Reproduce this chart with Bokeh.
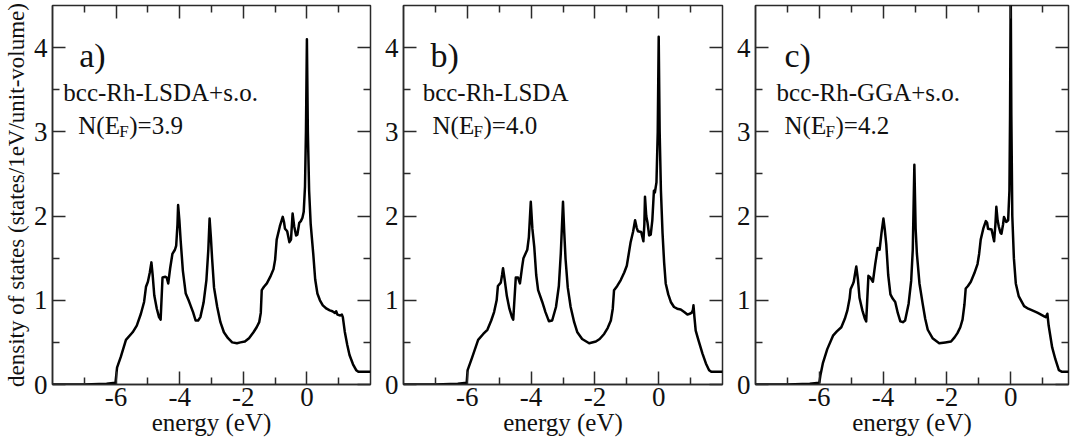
from bokeh.plotting import figure
from bokeh.models import Range1d, LinearAxis, FixedTicker, Label, CustomJSTickFormatter
from bokeh.layouts import row
from bokeh.embed import file_html
from bokeh.resources import INLINE

# ---------------- data ----------------
energy_a = [-8, -7, -6.3, -6.02, -5.97, -5.85, -5.69, -5.48, -5.35, -5.22, -5.12, -5.06, -5.0, -4.94,
            -4.89, -4.85, -4.80, -4.72, -4.65, -4.60, -4.54, -4.45, -4.41, -4.36, -4.30, -4.23, -4.15,
            -4.11, -4.07, -4.05, -4.01, -3.97, -3.90, -3.81, -3.72, -3.66, -3.58, -3.50, -3.42, -3.35,
            -3.25, -3.16, -3.10, -3.06, -3.02, -2.98, -2.92, -2.82, -2.72, -2.61, -2.48, -2.35, -2.2,
            -2.09, -1.95, -1.82, -1.68, -1.58, -1.5, -1.45, -1.42, -1.35, -1.26, -1.15, -1.05, -1.0,
            -0.95, -0.85, -0.76, -0.72, -0.69, -0.62, -0.55, -0.50, -0.45, -0.40, -0.34, -0.30, -0.24,
            -0.19, -0.14, -0.10, -0.06, -0.03, 0.0, 0.03, 0.07, 0.12, 0.2, 0.26, 0.33, 0.41, 0.5, 0.62,
            0.72, 0.8, 0.88, 0.92, 0.96, 1.05, 1.1, 1.13, 1.19, 1.27, 1.34, 1.45, 1.55, 1.62, 2.0]
dos_a = [0.0, 0.0, 0.01, 0.02, 0.2, 0.33, 0.53, 0.62, 0.70, 0.84, 0.98, 1.16, 1.22, 1.33,
         1.45, 1.30, 1.06, 0.90, 0.80, 0.77, 1.27, 1.28, 1.27, 1.20, 1.38, 1.55, 1.60,
         1.65, 1.90, 2.13, 1.95, 1.71, 1.35, 1.08, 1.00, 0.94, 0.86, 0.76, 0.76, 0.80,
         0.97, 1.24, 1.60, 1.97, 1.75, 1.49, 1.15, 0.92, 0.74, 0.62, 0.55, 0.50, 0.49,
         0.50, 0.51, 0.55, 0.62, 0.68, 0.74, 0.85, 1.12, 1.16, 1.20, 1.28, 1.37, 1.48,
         1.72, 1.88, 1.99, 1.93, 1.85, 1.82, 1.69, 1.72, 2.03, 1.88, 1.77, 1.78, 1.92,
         1.94, 1.98, 2.05, 2.35, 3.0, 4.1, 3.0, 2.3, 1.9, 1.55, 1.25, 1.08, 1.0, 0.94, 0.9,
         0.88, 0.87, 0.85, 0.87, 0.83, 0.82, 0.83, 0.80, 0.63, 0.47, 0.35, 0.24, 0.17, 0.15, 0.15]

energy_b = [-8, -7, -6.3, -6.02, -5.99, -5.85, -5.66, -5.5, -5.37, -5.25, -5.16, -5.08, -5.04, -4.95,
            -4.91, -4.88, -4.83, -4.76, -4.68, -4.60, -4.56, -4.48, -4.41, -4.35, -4.28, -4.24, -4.12,
            -4.07, -4.01, -3.96, -3.9, -3.84, -3.78, -3.65, -3.55, -3.44, -3.34, -3.22, -3.13, -3.07,
            -3.0, -2.96, -2.92, -2.85, -2.76, -2.65, -2.55, -2.4, -2.18, -1.97, -1.85, -1.71, -1.6,
            -1.5, -1.44, -1.40, -1.3, -1.19, -1.08, -1.0, -0.94, -0.88, -0.80, -0.74, -0.69, -0.65,
            -0.55, -0.48, -0.45, -0.43, -0.39, -0.35, -0.30, -0.25, -0.2, -0.15, -0.12, -0.07, -0.03,
            0.0, 0.03, 0.07, 0.12, 0.17, 0.22, 0.3, 0.38, 0.48, 0.58, 0.69, 0.8, 0.9, 0.97, 1.03,
            1.07, 1.09, 1.12, 1.16, 1.25, 1.37, 1.48, 1.58, 1.65, 2.0]
dos_b = [0.0, 0.0, 0.01, 0.02, 0.17, 0.32, 0.53, 0.60, 0.65, 0.76, 0.86, 1.0, 1.17, 1.21,
         1.30, 1.38, 1.25, 1.05, 0.90, 0.80, 0.77, 1.27, 1.27, 1.20, 1.40, 1.50, 1.60,
         1.75, 2.17, 1.85, 1.63, 1.30, 1.12, 0.98, 0.86, 0.75, 0.76, 0.92, 1.17, 1.55,
         2.17, 1.80, 1.49, 1.15, 0.92, 0.74, 0.62, 0.54, 0.49, 0.51, 0.54, 0.60, 0.67,
         0.76, 0.90, 1.12, 1.17, 1.24, 1.33, 1.41, 1.55, 1.69, 1.82, 1.95, 1.86, 1.82,
         1.81, 1.70, 1.9, 2.23, 2.0, 1.92, 1.77, 1.78, 1.95, 2.3, 2.28, 2.4, 3.0,
         4.13, 3.0, 2.3, 1.8, 1.45, 1.2, 1.07, 0.98, 0.92, 0.90, 0.89, 0.86, 0.83, 0.84, 0.85,
         0.88, 0.94, 0.8, 0.64, 0.52, 0.37, 0.25, 0.17, 0.15, 0.15]

energy_c = [-8, -7, -6.3, -6.0, -5.96, -5.89, -5.75, -5.57, -5.45, -5.31, -5.2, -5.12, -5.05, -5.02,
            -4.95, -4.92, -4.86, -4.84, -4.79, -4.74, -4.65, -4.57, -4.53, -4.46, -4.40, -4.32, -4.25,
            -4.17, -4.11, -4.05, -3.99, -3.95, -3.9, -3.84, -3.77, -3.70, -3.62, -3.54, -3.46, -3.38,
            -3.31, -3.2, -3.12, -3.07, -3.02, -2.98, -2.94, -2.86, -2.76, -2.68, -2.6, -2.45, -2.24,
            -2.05, -1.87, -1.76, -1.67, -1.58, -1.51, -1.45, -1.41, -1.34, -1.25, -1.14, -1.04, -0.99,
            -0.94, -0.86, -0.78, -0.74, -0.71, -0.6, -0.52, -0.48, -0.45, -0.41, -0.37, -0.32, -0.29,
            -0.24, -0.21, -0.14, -0.08, -0.04, -0.02, 0.0, 0.02, 0.05, 0.10, 0.16, 0.25, 0.42, 0.55,
            0.73, 0.85, 0.95, 1.05, 1.1, 1.15, 1.19, 1.30, 1.40, 1.51, 1.61, 2.0]
dos_c = [0.0, 0.0, 0.01, 0.02, 0.12, 0.25, 0.42, 0.58, 0.63, 0.68, 0.78, 0.88, 1.02, 1.13,
         1.19, 1.22, 1.36, 1.40, 1.25, 1.03, 0.88, 0.78, 0.75, 1.29, 1.27, 1.22, 1.42,
         1.62, 1.60, 1.80, 1.97, 1.85, 1.66, 1.30, 1.07, 1.02, 0.98, 0.85, 0.75, 0.74,
         0.76, 0.96, 1.23, 1.6, 2.61, 1.85, 1.55, 1.2, 0.96, 0.78, 0.65, 0.55, 0.49,
         0.50, 0.51, 0.56, 0.61, 0.68, 0.77, 0.95, 1.14, 1.17, 1.22, 1.32, 1.43, 1.55,
         1.72, 1.85, 1.94, 1.92, 1.85, 1.84, 1.70, 1.9, 2.11, 1.95, 1.87, 1.80, 1.79,
         1.9, 1.99, 1.93, 1.95, 2.3, 3.2, 4.8, 3.2, 2.0, 1.5, 1.2, 1.05, 0.93, 0.9,
         0.87, 0.85, 0.83, 0.81, 0.80, 0.84, 0.7, 0.44, 0.30, 0.17, 0.15, 0.15]

panel_tags = ["a)", "b)", "c)"]
method_names = ["bcc-Rh-LSDA+s.o.", "bcc-Rh-LSDA", "bcc-Rh-GGA+s.o."]
nef_values = ["3.9", "4.0", "4.2"]
x_major_ticks = [-6, -4, -2, 0]
x_minor_ticks = [-7, -5, -3, -1, 1]
y_major_ticks = [0, 1, 2, 3, 4]
y_minor_ticks = [0.5, 1.5, 2.5, 3.5]
x_axis_title = "energy (eV)"
y_axis_title = "density of states (states/1eV/unit-volume)"

# ---------------- styling ----------------
FONT = "Liberation Serif"
INK = "#111111"
FRAME = "#2a2a2a"
H = 443


def style_axis(ax, show_labels=True):
    ax.major_tick_in = 13
    ax.major_tick_out = 0
    ax.minor_tick_in = 7
    ax.minor_tick_out = 0
    ax.major_tick_line_color = FRAME
    ax.minor_tick_line_color = FRAME
    ax.major_tick_line_width = 1.5
    ax.minor_tick_line_width = 1.5
    ax.axis_line_color = FRAME
    ax.axis_line_width = 1.5
    ax.major_label_text_font = FONT
    ax.major_label_text_color = INK
    ax.axis_label_text_font = FONT
    ax.axis_label_text_font_style = "normal"
    ax.axis_label_text_color = INK
    if show_labels:
        # plain hyphen-minus as in the original figure
        ax.formatter = CustomJSTickFormatter(code="return String(tick)")
        ax.major_label_text_font_size = "27px"
        ax.major_label_standoff = 3
        ax.axis_label_text_font_size = "25px"
        ax.axis_label_standoff = 0
    else:
        ax.formatter = CustomJSTickFormatter(code="return ''")
        ax.major_label_text_font_size = "0px"
        ax.major_label_standoff = 0
        ax.axis_line_color = None


def make_panel(i, energy, dos, width, left_border, x_end, tag_x, method_x, nef_x, with_ylabel):
    p = figure(width=width, height=H, output_backend="svg", toolbar_location=None,
               x_range=Range1d(-8, x_end), y_range=Range1d(0, 4.5),
               min_border_left=left_border, min_border_right=2,
               min_border_top=5, min_border_bottom=59)
    p.grid.visible = False
    p.outline_line_color = FRAME
    p.outline_line_width = 1.5
    p.background_fill_color = "white"
    p.border_fill_color = "white"

    p.xaxis.ticker = FixedTicker(ticks=x_major_ticks, minor_ticks=x_minor_ticks)
    p.yaxis.ticker = FixedTicker(ticks=y_major_ticks, minor_ticks=y_minor_ticks)
    p.xaxis.axis_label = x_axis_title
    if with_ylabel:
        p.yaxis.axis_label = y_axis_title
    style_axis(p.xaxis[0])
    style_axis(p.yaxis[0])
    p.yaxis[0].major_label_standoff = 5
    if with_ylabel:
        p.yaxis[0].axis_label_text_font_size = "23px"
        p.yaxis[0].axis_label_standoff = 2

    top = LinearAxis(ticker=FixedTicker(ticks=x_major_ticks, minor_ticks=x_minor_ticks))
    style_axis(top, show_labels=False)
    p.add_layout(top, "above")
    right = LinearAxis(ticker=FixedTicker(ticks=y_major_ticks, minor_ticks=y_minor_ticks))
    style_axis(right, show_labels=False)
    p.add_layout(right, "right")

    p.line(energy, dos, line_color="black", line_width=2.5, line_join="round")

    common = dict(text_font=FONT, text_color=INK, text_baseline="alphabetic")
    p.add_layout(Label(x=tag_x, y=3.91, text=panel_tags[i], text_font_size="34px", **common))
    p.add_layout(Label(x=method_x, y=3.47, text=method_names[i], text_font_size="25px", **common))
    p.add_layout(Label(x=nef_x, y=3.08, text="N(E", text_font_size="25px", **common))
    p.add_layout(Label(x=nef_x, y=3.08, x_offset=41, y_offset=-6, text="F",
                       text_font_size="17px", **common))
    p.add_layout(Label(x=nef_x, y=3.08, x_offset=51, text=")=" + nef_values[i],
                       text_font_size="25px", **common))
    return p


# frames: a 51-370, b 403-722, c 755-1068 (32 px per eV)
pa = make_panel(0, energy_a, dos_a, 372, 51, 2.0, -7.16, -7.66, -7.19, True)
pb = make_panel(1, energy_b, dos_b, 352, 31, 2.0, -7.15, -7.40, -7.09, False)
pc = make_panel(2, energy_c, dos_c, 346, 31, -8 + 313 / 31.9, -7.09, -7.34, -7.09, False)

layout = row(pa, pb, pc, spacing=0)
open("out.html", "w").write(file_html(layout, INLINE))
